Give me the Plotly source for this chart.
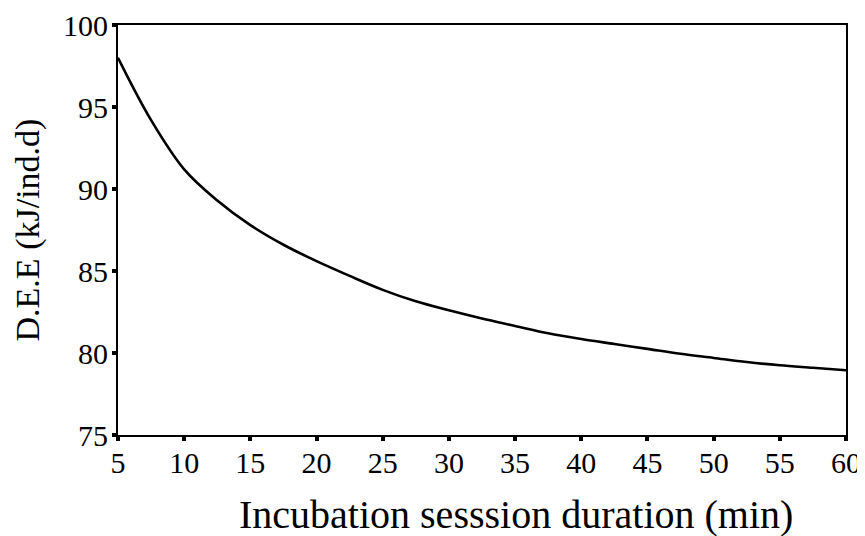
import plotly.graph_objects as go

duration_min = [5, 7.5, 10, 12.5, 15, 17.5, 20, 22.5, 25, 27.5, 30, 32.5, 35,
                37.5, 40, 42.5, 45, 47.5, 50, 52.5, 55, 57.5, 60]
dee_kj = [98.0, 94.2, 91.2, 89.3, 87.8, 86.6, 85.6, 84.7, 83.85, 83.15, 82.6,
          82.1, 81.65, 81.2, 80.85, 80.55, 80.25, 79.95, 79.7, 79.45, 79.25,
          79.1, 78.95]

x_ticks = [5, 10, 15, 20, 25, 30, 35, 40, 45, 50, 55, 60]
y_ticks = [75, 80, 85, 90, 95, 100]

FONT = "Liberation Serif, Times New Roman, serif"

fig = go.Figure()
fig.add_trace(go.Scatter(
    x=duration_min, y=dee_kj, mode="lines",
    line=dict(color="black", width=2.6, shape="spline", smoothing=1.0),
    showlegend=False, hoverinfo="skip"))

axis_common = dict(
    showline=True, linecolor="black", linewidth=2, mirror=True,
    ticks="outside", ticklen=4, tickwidth=4, tickcolor="black",
    showgrid=False, zeroline=False, automargin=False,
    tickfont=dict(family=FONT, size=30, color="black"),
)

fig.update_xaxes(range=[5, 60], tickvals=x_ticks, ticklabelstandoff=-4,
                 ticktext=[str(v) for v in x_ticks], **axis_common)
fig.update_yaxes(range=[75, 100], tickvals=y_ticks, ticklabelstandoff=-2,
                 ticktext=[str(v) for v in y_ticks], **axis_common)

fig.add_annotation(text="Incubation sesssion duration (min)",
                   xref="paper", yref="paper", x=0.547, y=-0.193,
                   xanchor="center", yanchor="middle", showarrow=False,
                   font=dict(family=FONT, size=40, color="black"))
fig.add_annotation(text="D.E.E (kJ/ind.d)",
                   xref="paper", yref="paper", x=-0.123, y=0.5,
                   xanchor="center", yanchor="middle", textangle=-90,
                   showarrow=False,
                   font=dict(family=FONT, size=34, color="black"))

fig.update_layout(
    template="none",
    width=857, height=528,
    margin=dict(l=110, r=19, t=17, b=101, autoexpand=False),
    paper_bgcolor="white", plot_bgcolor="white",
)

fig.write_html("out.html")
